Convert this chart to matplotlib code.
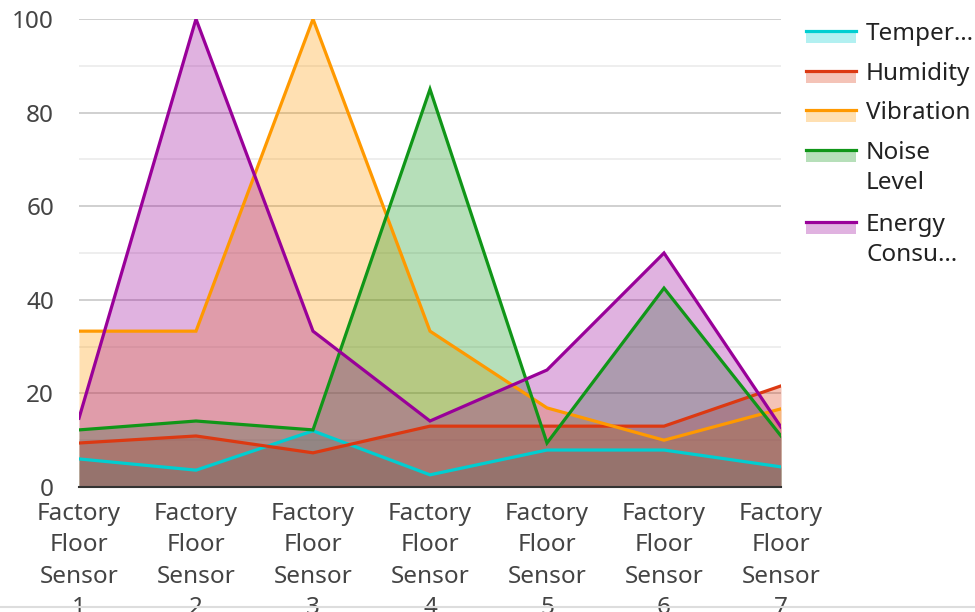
import matplotlib
matplotlib.use("Agg")
import matplotlib.pyplot as plt
from matplotlib.patches import Rectangle
from matplotlib.lines import Line2D

plt.rcParams['font.family'] = ['Noto Sans', 'DejaVu Sans']

sensors = ['Factory\nFloor\nSensor\n%d' % i for i in range(1, 8)]
temperature = [6.0, 3.6, 12.0, 2.6, 7.9, 7.9, 4.3]
humidity = [9.4, 10.9, 7.3, 13.0, 13.0, 13.0, 21.6]
vibration = [33.3, 33.3, 100, 33.3, 16.9, 10.0, 16.7]
noise = [12.2, 14.1, 12.2, 85.0, 9.4, 42.5, 10.9]
energy = [14.7, 100, 33.3, 14.1, 25.0, 50.0, 12.8]

series_names = ['Temper…', 'Humidity', 'Vibration', 'Noise\nLevel', 'Energy\nConsu…']
series = [temperature, humidity, vibration, noise, energy]
colors = ['#00CED1', '#DC3912', '#FF9900', '#109618', '#990099']

fig = plt.figure(figsize=(9.75, 6.12), dpi=100)
W, H = 975, 612
ax = fig.add_axes([79 / W, 1 - 487 / H, (781 - 79) / W, (487 - 19) / H])

x = list(range(len(sensors)))
for vals, c in zip(series, colors):
    ax.fill_between(x, 0, vals, color=c, alpha=0.3, linewidth=0, zorder=2)
for vals, c in zip(series, colors):
    ax.plot(x, vals, color=c, linewidth=2.3, zorder=3, solid_joinstyle='miter')

ax.set_xlim(0, 6)
ax.set_ylim(0, 100)
ax.set_yticks(range(0, 101, 20))
ax.set_yticks(range(10, 100, 20), minor=True)
ax.grid(axis='y', which='major', color='#c8c8c8', linewidth=1.2, zorder=1)
ax.grid(axis='y', which='minor', color='#ebebeb', linewidth=1.2, zorder=1)
ax.set_xticks(x)
ax.set_xticklabels(sensors, linespacing=1.4, va='top')
ax.tick_params(axis='both', which='both', length=0, labelsize=17.5, labelcolor='#444444')
ax.tick_params(axis='y', pad=18)
ax.tick_params(axis='x', pad=11)
for side in ['top', 'right', 'left']:
    ax.spines[side].set_visible(False)
ax.spines['bottom'].set_color('#333333')
ax.spines['bottom'].set_linewidth(1.5)
ax.spines['bottom'].set_zorder(4)

# legend on the right, drawn in pixel coordinates of the figure
tops = [31, 71, 110, 150, 222]
for name, c, t in zip(series_names, colors, tops):
    fig.add_artist(Rectangle((806 / W, 1 - (t + 12) / H), 50 / W, 12 / H,
                             transform=fig.transFigure, color=c, alpha=0.3, lw=0))
    fig.add_artist(Line2D([806 / W, 856 / W], [1 - t / H, 1 - t / H],
                          transform=fig.transFigure, color=c, lw=2.3))
    fig.text(866 / W, 1 - (t - 9) / H, name, fontsize=17.5, color='#222222',
             va='top', ha='left', linespacing=1.36)

# thin border line at the bottom
fig.add_artist(Line2D([0, 1], [1 - 607 / H, 1 - 607 / H], transform=fig.transFigure,
                      color='#dddddd', lw=1.5))

fig.savefig('out.png', dpi=100)
